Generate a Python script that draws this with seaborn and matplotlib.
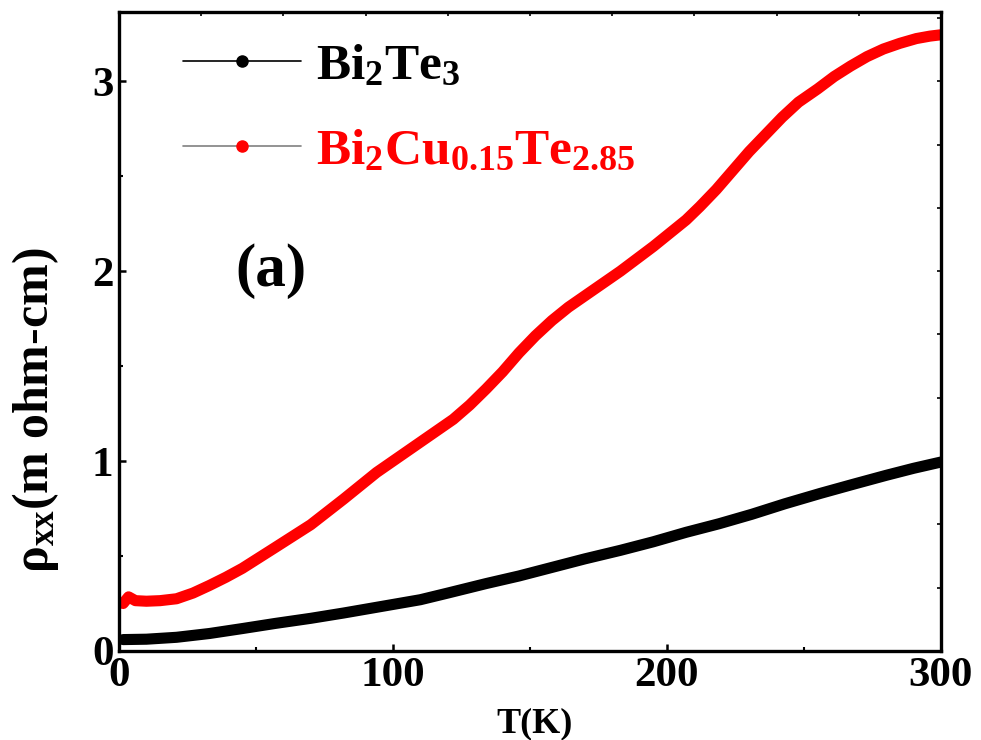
import numpy as np
import pandas as pd
import matplotlib
matplotlib.use('Agg')
import matplotlib.pyplot as plt
from matplotlib.lines import Line2D
from matplotlib.ticker import MultipleLocator
import seaborn as sns

# values
t_cu = [1.5, 3.5, 6, 10, 15, 21, 27, 33, 39, 45, 51, 57, 70, 82, 94, 106, 115,
        122, 128, 134, 140, 146, 152, 158, 164, 171, 183, 195, 207, 212, 218,
        224, 230, 236, 242, 248, 255, 261, 267, 273, 279, 285, 291, 296, 300]
rho_cu = [0.25, 0.285, 0.265, 0.262, 0.265, 0.275, 0.305, 0.345, 0.388, 0.435,
          0.49, 0.545, 0.665, 0.80, 0.94, 1.06, 1.15, 1.22, 1.295, 1.38, 1.47,
          1.57, 1.66, 1.74, 1.81, 1.88, 2.00, 2.13, 2.27, 2.34, 2.43, 2.53,
          2.63, 2.72, 2.81, 2.89, 2.96, 3.025, 3.08, 3.13, 3.17, 3.20, 3.225,
          3.238, 3.245]
t_bt = [1.5, 10, 21, 33, 45, 57, 70, 82, 94, 110, 120, 134, 146, 158, 170,
        183, 195, 207, 219, 231, 243, 256, 268, 280, 290, 300]
rho_bt = [0.060, 0.062, 0.072, 0.092, 0.118, 0.145, 0.172, 0.20, 0.23, 0.27,
          0.305, 0.355, 0.395, 0.44, 0.485, 0.53, 0.575, 0.625, 0.67, 0.72,
          0.775, 0.83, 0.878, 0.925, 0.962, 0.995]
names = ['Bi2Te3', 'Bi2Cu0.15Te2.85']
labels = [r'$Bi_2Te_3$', r'$Bi_2Cu_{0.15}Te_{2.85}$']
colors = ['black', 'red']

df = pd.concat([
    pd.DataFrame({'T': t_bt, 'rho': rho_bt, 'sample': names[0]}),
    pd.DataFrame({'T': t_cu, 'rho': rho_cu, 'sample': names[1]}),
])

sns.set_theme(style='ticks')
plt.rcParams['font.family'] = ['Liberation Serif', 'DejaVu Serif']
plt.rcParams['font.weight'] = 'bold'
plt.rcParams['text.color'] = 'black'
plt.rcParams['axes.labelcolor'] = 'black'
plt.rcParams['xtick.color'] = 'black'
plt.rcParams['ytick.color'] = 'black'
plt.rcParams['mathtext.fontset'] = 'custom'
plt.rcParams['mathtext.rm'] = 'Liberation Serif:bold'
plt.rcParams['mathtext.bf'] = 'Liberation Serif:bold'
plt.rcParams['mathtext.it'] = 'Liberation Serif:bold'
plt.rcParams['mathtext.default'] = 'bf'

fig = plt.figure(figsize=(9.81, 7.40), dpi=100)
ax = fig.add_axes([0.1213, 0.1203, 0.8379, 0.8635])

sns.lineplot(data=df, x='T', y='rho', hue='sample', palette=dict(zip(names, colors)),
             linewidth=8, legend=False, ax=ax, solid_capstyle='round',
             solid_joinstyle='round')

ax.set_xlim(0, 300)
ax.set_ylim(0, 3.365)
ax.set_xticks([0, 100, 200, 300])
ax.set_yticks([0, 1, 2, 3])
ax.xaxis.set_minor_locator(MultipleLocator(50))
ax.yaxis.set_minor_locator(MultipleLocator(0.5))
ax.tick_params(which='major', direction='in', length=5, width=1.8, labelsize=31, pad=4)
ax.tick_params(which='minor', direction='in', length=3, width=1.5)
for s in ax.spines.values():
    s.set_linewidth(2.4)
    s.set_color('black')

top = ax.secondary_xaxis('top')
top.set_xticks(np.arange(0, 301, 30))
top.tick_params(direction='in', length=3, width=1.2, labeltop=False)
right = ax.secondary_yaxis('right')
right.set_yticks(np.arange(0, 3.4, 1 / 3))
right.tick_params(direction='in', length=3, width=1.2, labelright=False)

ax.set_xlabel('T(K)', fontsize=26, fontweight='bold', labelpad=0)
ax.xaxis.set_label_coords(0.505, -0.088)
ax.set_ylabel(r'$\rho_{xx}$(m ohm-cm)', fontsize=36, fontweight='bold')
ax.yaxis.set_label_coords(-0.07, 0.377)

ax.text(0.185, 0.595, '(a)', transform=ax.transAxes, fontsize=44,
        fontweight='bold', ha='center', va='center')

handles = [
    Line2D([], [], color='black', lw=1.2, marker='o', markersize=8,
           markerfacecolor='black', markeredgecolor='black'),
    Line2D([], [], color='gray', lw=1.2, marker='o', markersize=8,
           markerfacecolor='red', markeredgecolor='red'),
]
leg = ax.legend(handles, labels, loc='upper left', bbox_to_anchor=(0.04, 1.0),
                frameon=False, fontsize=37, handlelength=2.3, handletextpad=0.3,
                labelspacing=0.75, borderaxespad=0.2)
for txt, c in zip(leg.get_texts(), colors):
    txt.set_color(c)

fig.savefig('out.png', dpi=100)
